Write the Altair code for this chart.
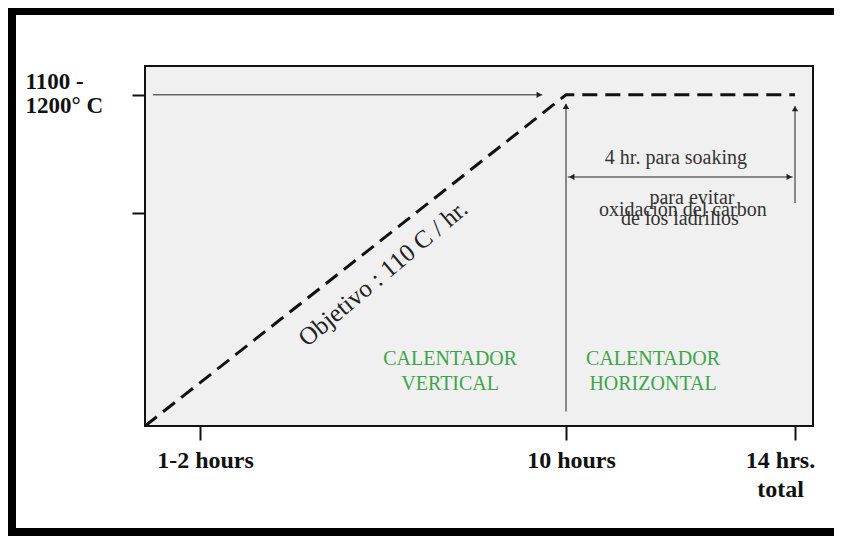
import altair as alt
import pandas as pd

# ---- data (schematic heating curve) ----
ramp_hours = [0, 10, 14]
ramp_temp = [0, 1150, 1150]

x_tick_values = [1.5, 10, 14]
y_tick_values = [740, 1150]

# thin arrow shafts
arrow_x1 = [0.22, 10, 14, 10.03]
arrow_y1 = [1150, 50, 774, 865]
arrow_x2 = [9.45, 10, 14, 13.96]
arrow_y2 = [1150, 1118, 1110, 865]

# arrow heads
head_x = [9.38, 10, 14, 10.10, 13.90]
head_y = [1150, 1110, 1102, 865, 865]
head_shape = ["triangle-right", "triangle-up", "triangle-up", "triangle-left", "triangle-right"]

# annotation texts
note_text = ["para evitar", "oxidación del carbon", "de los ladrillos", "4 hr. para soaking"]
note_x = [12.2, 12.04, 11.99, 11.92]
note_y = [792, 750, 719, 930]

zone_text = ["CALENTADOR\nVERTICAL", "CALENTADOR\nHORIZONTAL"]
zone_x = [7.31, 11.52]
zone_y = [234, 234]

slope_text = ["Objetivo : 110 C / hr."]
slope_x = [5.75]
slope_y = [530]

# ---- scales / axes ----
xs = alt.Scale(domain=[0, 1.5, 10, 14], range=[0, 55, 421, 650], nice=False, zero=False)
ys = alt.Scale(domain=[0, 1250], nice=False, zero=False)

serif = "Liberation Serif"

x_axis = alt.Axis(
    values=x_tick_values,
    labelExpr="datum.value == 14 ? ['14  hrs.', 'total'] : (datum.value == 10 ? '10 hours' : '1-2 hours')",
    title=None, grid=False, domain=False,
    tickSize=14, tickWidth=2, tickColor="#111",
    labelFont=serif, labelFontWeight="bold", labelFontSize=24, labelColor="#111",
    labelBaseline="top", labelAlign="center", labelPadding=8, labelLineHeight=29,
    labelOffset={"condition": {"test": "datum.value == 14", "value": -15}, "value": 5},
    labelOverlap=False, labelFlush=False, labelBound=False,
)
y_axis = alt.Axis(
    values=y_tick_values,
    labelExpr="datum.value == 1150 ? ['1100 -', '1200° C'] : ''",
    title=None, grid=False, domain=False,
    tickSize=13, tickWidth=2, tickColor="#111",
    labelFont=serif, labelFontWeight="bold", labelFontSize=23, labelColor="#111",
    labelAlign="left", labelBaseline="middle", labelPadding=107, labelLineHeight=24,
    labelOffset=-13,
    labelOverlap=False, labelFlush=False, labelBound=False,
)

X = lambda f: alt.X(f, type="quantitative", scale=xs, axis=x_axis)
Y = lambda f: alt.Y(f, type="quantitative", scale=ys, axis=y_axis)

ramp_df = pd.DataFrame({"x": ramp_hours, "y": ramp_temp})
ramp = alt.Chart(ramp_df).mark_line(
    color="#111", strokeWidth=3, strokeDash=[15, 8]
).encode(x=X("x"), y=Y("y"))

arrows_df = pd.DataFrame({"x": arrow_x1, "y": arrow_y1, "x2": arrow_x2, "y2": arrow_y2})
arrows = alt.Chart(arrows_df).mark_rule(color="#666", strokeWidth=1.5).encode(
    x=X("x"), y=Y("y"), x2="x2", y2="y2"
)

heads_df = pd.DataFrame({"x": head_x, "y": head_y, "s": head_shape})
heads = alt.Chart(heads_df).mark_point(filled=True, color="#222", size=40, opacity=1).encode(
    x=X("x"), y=Y("y"), shape=alt.Shape("s:N", scale=None, legend=None)
)

notes_df = pd.DataFrame({"x": note_x, "y": note_y, "t": note_text})
notes = alt.Chart(notes_df).mark_text(
    font=serif, fontSize=20, color="#333", align="center", baseline="middle"
).encode(x=X("x"), y=Y("y"), text="t:N")

zones_df = pd.DataFrame({"x": zone_x, "y": zone_y, "t": zone_text})
zones = alt.Chart(zones_df).mark_text(
    font=serif, fontSize=20, color="#3da548", align="center", baseline="middle",
    lineBreak="\n", lineHeight=25
).encode(x=X("x"), y=Y("y"), text="t:N")

slope_df = pd.DataFrame({"x": slope_x, "y": slope_y, "t": slope_text})
slope = alt.Chart(slope_df).mark_text(
    font=serif, fontSize=25, color="#222", align="center", baseline="middle", angle=320
).encode(x=X("x"), y=Y("y"), text="t:N")

# black picture frame (decoration outside the plot)
one = pd.DataFrame({"a": [0]})
frame_left = alt.Chart(one).mark_rule(color="#000", strokeWidth=8).encode(
    x=alt.value(-133), y=alt.value(-58), y2=alt.value(470)
)
frame_top = alt.Chart(one).mark_rule(color="#000", strokeWidth=8).encode(
    x=alt.value(-137), x2=alt.value(689), y=alt.value(-55)
)
frame_bottom = alt.Chart(one).mark_rule(color="#000", strokeWidth=8).encode(
    x=alt.value(-137), x2=alt.value(689), y=alt.value(466)
)

chart = alt.layer(
    ramp, arrows, heads, notes, zones, slope, frame_left, frame_top, frame_bottom
).properties(
    width=668, height=360,
    padding={"left": 137, "top": 58, "right": 21, "bottom": 110},
    autosize=alt.AutoSizeParams(type="none"),
    background="white",
).configure_view(
    stroke="#111", strokeWidth=2, fill="#f0f0f0"
)

chart.save("out.html", embed_options={"renderer": "svg", "actions": False})
